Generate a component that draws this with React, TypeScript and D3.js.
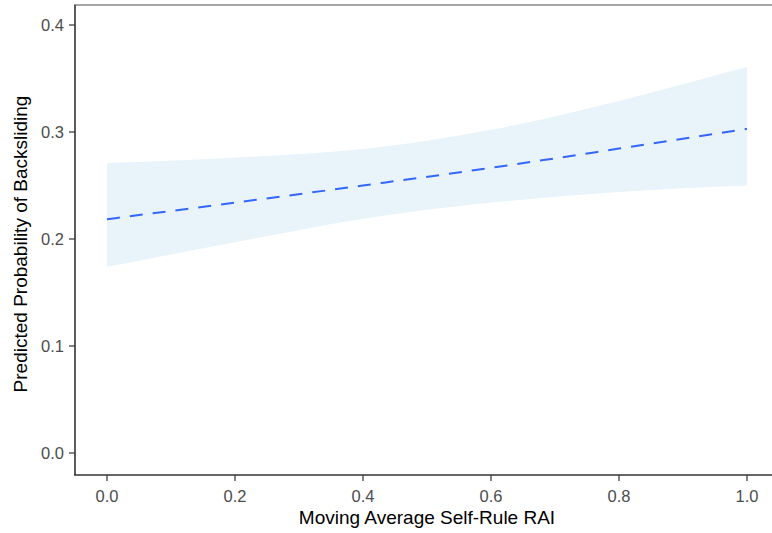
import React from "react";
import * as d3 from "d3";

const xs = [0, 0.2, 0.4, 0.6, 0.8, 1.0];
const fitValues = [0.2185, 0.234, 0.250, 0.2665, 0.2845, 0.303];
const upperValues = [0.271, 0.276, 0.284, 0.302, 0.329, 0.361];
const lowerValues = [0.174, 0.197, 0.219, 0.234, 0.244, 0.250];
const xTicks = [0, 0.2, 0.4, 0.6, 0.8, 1.0];
const yTicks = [0, 0.1, 0.2, 0.3, 0.4];

const W = 772;
const H = 533;

export default function App() {
  const x = d3.scaleLinear().domain([-0.05, 1.05]).range([75, 779]);
  const y = d3.scaleLinear().domain([0, 0.4]).range([453, 25]);
  const pts = xs.map((v, i) => ({ x: v, f: fitValues[i], u: upperValues[i], l: lowerValues[i] }));
  const area = d3
    .area<any>()
    .x((d) => x(d.x))
    .y0((d) => y(d.l))
    .y1((d) => y(d.u))
    .curve(d3.curveMonotoneX);
  const line = d3
    .line<any>()
    .x((d) => x(d.x))
    .y((d) => y(d.f))
    .curve(d3.curveMonotoneX);
  const font = "Liberation Sans, Arial, sans-serif";
  return (
    <svg width={W} height={H} style={{ position: "absolute", left: 0, top: 0, background: "#fff" }}>
      <line x1={74} x2={772} y1={5} y2={5} stroke="#8a8a8a" strokeWidth={1.5} />
      <path d={area(pts) || ""} fill="#e8f3fa" />
      <path d={line(pts) || ""} fill="none" stroke="#3366ff" strokeWidth={2} strokeDasharray="13,10" />
      <line x1={75} x2={75} y1={5} y2={475} stroke="#333" strokeWidth={1.6} />
      <line x1={74} x2={772} y1={475} y2={475} stroke="#333" strokeWidth={1.6} />
      {yTicks.map((t) => (
        <g key={"y" + t}>
          <line x1={69} x2={75} y1={y(t)} y2={y(t)} stroke="#333" strokeWidth={1.2} />
          <text x={64} y={y(t)} dy="0.36em" textAnchor="end" fontFamily={font} fontSize={16.5} fill="#4d4d4d">
            {t.toFixed(1)}
          </text>
        </g>
      ))}
      {xTicks.map((t) => (
        <g key={"x" + t}>
          <line x1={x(t)} x2={x(t)} y1={475} y2={481} stroke="#333" strokeWidth={1.2} />
          <text x={x(t)} y={502} textAnchor="middle" fontFamily={font} fontSize={16.5} fill="#4d4d4d">
            {t.toFixed(1)}
          </text>
        </g>
      ))}
      <text x={427} y={524} textAnchor="middle" fontFamily={font} fontSize={19} fill="#000">
        Moving Average Self-Rule RAI
      </text>
      <text
        transform={`translate(27,244) rotate(-90)`}
        textAnchor="middle"
        fontFamily={font}
        fontSize={19}
        fill="#000"
      >
        Predicted Probability of Backsliding
      </text>
    </svg>
  );
}
